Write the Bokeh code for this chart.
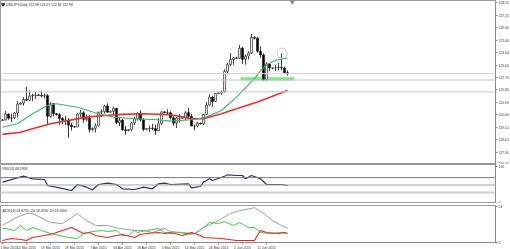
from bokeh.plotting import figure
from bokeh.layouts import column
from bokeh.models import Range1d, FixedTicker, PrintfTickFormatter, Label, Span, LinearAxis
from bokeh.embed import file_html
from bokeh.resources import INLINE

# ---------------- data ----------------
OPEN = [119.58,119.63,120.06,119.75,119.79,120.13,120.78,120.85,121.11,121.06,121.36,121.40,
        121.43,121.40,121.36,121.39,119.90,120.80,120.07,120.00,119.74,119.61,119.62,119.25,
        119.14,119.12,120.06,120.14,119.67,119.75,118.94,119.02,119.20,120.19,120.23,120.64,
        120.19,120.25,120.47,119.43,119.62,118.92,118.86,118.93,119.41,119.72,120.12,119.63,
        118.95,119.00,119.03,119.00,118.85,119.35,120.21,120.15,120.14,119.78,119.40,119.76,
        119.76,119.80,120.15,119.88,119.19,119.19,119.39,119.35,120.03,120.71,121.28,120.97,
        121.55,121.58,121.68,123.14,123.63,124.01,124.12,124.10,124.83,124.02,124.25,124.47,
        125.61,125.55,124.60,124.34,122.53,123.68,123.39,123.40,123.40,123.42,123.39,123.05]
HIGH = [119.70,120.27,120.09,120.09,120.21,120.98,120.92,121.29,122.03,121.76,121.53,121.68,
        121.50,121.74,121.54,121.49,120.91,120.87,120.12,120.14,119.82,119.91,119.76,119.42,
        119.20,120.13,120.36,120.27,120.00,119.98,119.08,119.39,120.21,120.40,120.72,120.84,
        120.30,120.58,120.50,119.79,119.70,119.20,118.98,119.50,119.86,120.18,120.33,119.76,
        119.05,119.22,119.34,119.30,119.75,120.26,120.28,120.40,120.26,119.95,119.85,120.05,
        119.85,120.27,120.51,120.05,119.29,119.50,119.45,120.08,120.93,121.48,121.37,121.57,
        121.62,121.76,123.30,123.77,124.46,124.21,124.20,125.05,124.92,124.38,124.60,125.86,
        125.70,125.64,124.96,124.45,123.82,123.72,123.45,123.63,123.76,124.45,123.49,123.21]
LOW = [119.55,119.60,119.64,119.47,119.68,119.81,120.72,120.67,120.99,121.03,121.00,121.15,
       121.35,121.25,121.20,119.29,119.80,119.88,119.95,119.29,119.30,119.26,118.33,118.86,
       119.05,119.11,119.82,119.42,119.53,118.71,118.80,118.72,119.15,119.82,120.09,120.15,
       120.12,119.99,119.35,119.19,118.83,118.55,118.80,118.80,119.27,119.57,119.50,118.82,
       118.88,118.75,118.87,118.56,118.82,119.29,120.10,120.01,119.68,119.21,119.05,119.44,
       119.70,119.63,119.78,119.21,118.88,119.10,119.30,119.25,119.96,120.66,120.58,120.93,
       121.48,121.46,121.60,122.94,123.53,123.62,124.05,124.05,123.69,123.64,124.02,124.40,
       125.45,124.50,124.12,122.47,122.49,123.14,123.30,123.16,123.24,123.23,122.95,122.84]
CLOSE = [119.63,120.06,119.75,119.79,120.13,120.78,120.85,121.11,121.06,121.36,121.40,121.43,
         121.40,121.36,121.39,119.90,120.80,120.07,120.00,119.74,119.61,119.62,119.25,119.14,
         119.12,120.06,120.14,119.67,119.75,118.94,119.02,119.20,120.19,120.23,120.64,120.19,
         120.25,120.47,119.43,119.62,118.92,118.86,118.93,119.41,119.72,120.12,119.63,118.95,
         119.00,119.03,119.00,118.85,119.35,120.21,120.15,120.14,119.78,119.40,119.76,119.76,
         119.80,120.15,119.88,119.19,119.19,119.39,119.35,120.03,120.71,121.28,120.97,121.55,
         121.58,121.68,123.14,123.63,124.01,124.12,124.10,124.83,124.02,124.25,124.47,125.61,
         125.55,124.60,124.34,122.53,123.68,123.39,123.40,123.40,123.42,123.39,123.05,122.98]

GREEN_BARS = [0,5,10,15,18,25,32,37,44,52,56,64,68,73,78,81,84,86,88,91,95]
GREEN_MA = [119.10,119.35,120.08,120.68,120.80,120.55,120.08,119.83,119.71,119.64,119.54,
            119.66,119.85,120.31,121.28,121.95,122.62,123.20,123.62,123.95,124.12]
RED_BARS = [0,6,10,16,22,28,34,40,47,56,60,63,67,73,78,85,90,95]
RED_MA = [118.58,118.74,118.99,119.35,119.59,119.83,119.95,120.03,120.08,120.00,119.85,
          119.71,119.71,120.08,120.44,120.92,121.35,121.76]

RSI_BARS = [0,7,10,14,15,19,23,25,28,30,32,35,38,40,44,47,50,52,54,56,62,63,66,67,69,70,
            74,75,78,80,81,83,86,88,90,93,95]
RSI = [57.6,73.8,66.7,64.9,48.6,42.3,35.1,51.4,44.1,37.0,51.4,54.9,51.4,39.7,37.8,44.1,39.7,
       53.2,54.9,51.4,53.2,42.4,45.9,57.6,66.8,62.2,73.8,77.6,75.7,75.7,66.8,75.7,66.8,51.4,
       51.4,51.4,48.6]

ADX_BARS = [0,4,8,10,16,20,23,25,27,31,35,39,44,47,50,54,56,60,64,67,72,76,79,83,84,87,90,93,95]
ADX = [25.5,36,43.5,43.5,30,28.5,37.5,43.5,36,25.5,25.5,21,18,18,15,21,16.5,15,13.5,22.5,33,
       43.5,48,51,52.5,43.5,33,25.5,21]
PDI_BARS = [0,1,4,6,8,10,13,16,22,25,27,30,33,35,38,40,42,44,45,48,52,54,56,59,63,65,67,69,
            72,74,77,79,82,84,86,89,93,95]
PDI = [21,21,18,25.5,18,22.5,18,13.5,7.5,6,13.5,16.5,18,16.5,18,10.5,10.5,18,15,18,21,15,13.5,
       15,12,15,22.5,30,28.5,31.5,25.5,30,22.5,22.5,15,13.5,15,13.5]
MDI_BARS = [0,3,6,8,10,14,17,20,23,25,27,29,31,35,38,40,44,46,48,52,54,56,60,63,66,67,73,78,
            84,86,88,92,94,95]
MDI = [3,6,4.5,3,7.5,10.5,13.5,18,22.5,18,13.5,15,10.5,7.5,10.5,12,7.5,12,13.5,15,13.5,15,
       10.5,15,10.5,7.5,6,3,3,18,15,13.5,15,13.5]

XTICK_BARS = [0,8,16,24,32,40,48,56,64,72,80,88]
XTICK_LABELS = ["1 Mar 2015","10 Mar 2015","19 Mar 2015","29 Mar 2015","7 Apr 2015",
                "16 Apr 2015","26 Apr 2015","5 May 2015","14 May 2015","24 May 2015",
                "2 Jun 2015","11 Jun 2015"]
PRICE_TICKS = [116.40,117.30,118.20,119.10,120.00,120.90,121.80,122.70,123.60,124.50,
               125.40,126.30,127.20,128.10]
BID = 122.98
LEVELS = [122.52, 121.66]
ZONE = (79.3, 97.3, 122.48, 122.72)   # bars left/right, price bottom/top
CIRCLE = (93.2, 124.46)
TITLE = "USDJPY,Daily  122.98 123.21 122.84 122.98"
RSI_TITLE = "RSI(14) 48.5958"
ADX_TITLE = "ADX(14) 24.6755 +DI:18.3250 -DI:18.1690"

# ---------------- styling ----------------
FONT = "Liberation Sans"
FS = "3.4px"
X0, X1 = -2/3, 493/3
XLBL = 164.8
idx = list(range(len(OPEN)))

def base(fh, yr, top=0):
    f = figure(frame_width=495, frame_height=fh, x_range=Range1d(X0, X1), y_range=yr,
               output_backend="svg", toolbar_location=None, x_axis_location=None,
               y_axis_location="right", min_border_left=0, min_border_right=0,
               min_border_top=top, min_border_bottom=0)
    f.grid.visible = False
    f.outline_line_color = "#9a9a9a"
    f.background_fill_color = "white"
    f.border_fill_color = "white"
    ax = f.yaxis[0]
    ax.major_tick_out = 2
    ax.major_tick_in = 0
    ax.minor_tick_line_color = None
    ax.axis_line_color = "#8a8a8a"
    ax.major_tick_line_color = "#8a8a8a"
    ax.major_label_standoff = 1
    ax.major_label_text_font = FONT
    ax.major_label_text_font_size = FS
    ax.major_label_text_color = "#333333"
    return f

def box(f, y, text, bg, fg="white"):
    f.add_layout(Label(x=XLBL, y=y, text=text, text_font=FONT, text_font_size=FS,
                       text_color=fg, text_baseline="middle", background_fill_color=bg,
                       padding=0))

# main price panel
p = base(164, Range1d(116.40, 128.28))
p.yaxis.ticker = FixedTicker(ticks=PRICE_TICKS)
p.yaxis.formatter = PrintfTickFormatter(format="%.2f")

for lv in LEVELS:
    p.add_layout(Span(location=lv, dimension="width", line_color="#c9c9c9", line_width=1))
p.add_layout(Span(location=BID, dimension="width", line_color="#d5d5d5", line_width=1))
p.quad(left=[ZONE[0]], right=[ZONE[1]], bottom=[ZONE[2]], top=[ZONE[3]],
       fill_color="#79e879", line_color=None)

p.segment(x0=idx, y0=LOW, x1=idx, y1=HIGH, line_color="#3c3c3c", line_width=1)
up = [i for i in idx if CLOSE[i] >= OPEN[i]]
dn = [i for i in idx if CLOSE[i] < OPEN[i]]
p.vbar(x=up, width=0.62, bottom=[OPEN[i] for i in up], top=[CLOSE[i] for i in up],
       fill_color="white", line_color="#3c3c3c", line_width=0.8)
p.vbar(x=dn, width=0.62, bottom=[CLOSE[i] for i in dn], top=[OPEN[i] for i in dn],
       fill_color="black", line_color="#222222", line_width=0.8)

p.line(RED_BARS, RED_MA, line_color="#e8302a", line_width=1.6)
p.line(GREEN_BARS, GREEN_MA, line_color="#3cb371", line_width=1.1)
p.ellipse(x=[CIRCLE[0]], y=[CIRCLE[1]], width=3.4, height=0.74, fill_color=None,
          line_color="#bdbdbd", line_width=0.8)
p.scatter(x=[96.6], y=[128.18], marker="inverted_triangle", size=4, color="#8a8a8a")
p.scatter(x=[0.2], y=[127.99], marker="inverted_triangle", size=3, color="#222222")
p.add_layout(Label(x=1.2, y=127.99, text=TITLE, text_font=FONT, text_font_size=FS,
                   text_color="#222222", text_baseline="middle"))
box(p, BID, "122.98", "black")
box(p, LEVELS[0], "122.52", "#8b9bb8")
box(p, LEVELS[1], "121.66", "#8b9bb8")

# RSI panel
r = base(39, Range1d(0, 105.4))
r.yaxis.ticker = FixedTicker(ticks=[0, 100])
for lv, c, w in [(70, "#7a7a7a", 1), (50, "#a3a3a3", 1), (30, "#cfcfcf", 2)]:
    r.add_layout(Span(location=lv, dimension="width", line_color=c, line_width=w))
r.line(RSI_BARS, RSI, line_color="#2e2e86", line_width=1.2)
r.add_layout(Label(x=0.0, y=93, text=RSI_TITLE, text_font=FONT, text_font_size=FS,
                   text_color="#222222", text_baseline="middle"))
for lv in (70, 50, 30):
    box(r, lv, str(lv), "#333333")

# ADX panel
a = base(37, Range1d(0, 55.5), top=2)
a.yaxis.ticker = FixedTicker(ticks=[0, 54])
a.line(ADX_BARS, ADX, line_color="#a0a0a0", line_width=1)
a.line(PDI_BARS, PDI, line_color="#3ccf3c", line_width=1)
a.line(MDI_BARS, MDI, line_color="#ee2222", line_width=1.2)
a.add_layout(Label(x=0.0, y=48, text=ADX_TITLE, text_font=FONT, text_font_size=FS,
                   text_color="#222222", text_baseline="middle"))
xa = LinearAxis(ticker=FixedTicker(ticks=XTICK_BARS),
                major_label_overrides={b: l for b, l in zip(XTICK_BARS, XTICK_LABELS)})
xa.major_label_text_align = "left"
xa.major_label_text_font = FONT
xa.major_label_text_font_size = FS
xa.major_label_text_color = "#333333"
xa.major_label_standoff = 1
xa.major_tick_out = 2
xa.major_tick_in = 0
xa.minor_tick_line_color = None
xa.axis_line_color = "#8a8a8a"
xa.major_tick_line_color = "#8a8a8a"
a.add_layout(xa, "below")

layout = column(p, r, a, spacing=0)
open("out.html", "w").write(file_html(layout, INLINE))
